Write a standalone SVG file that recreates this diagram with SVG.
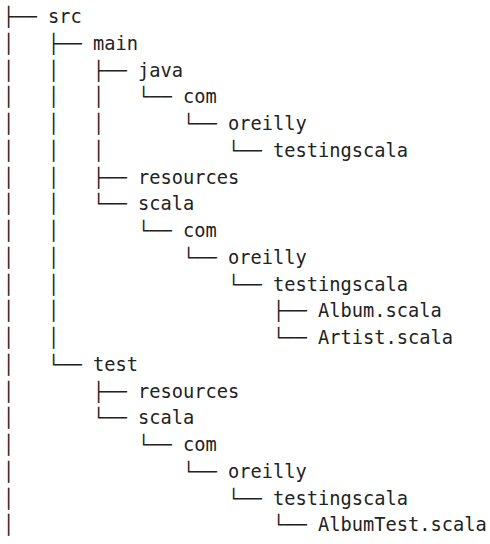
<svg xmlns="http://www.w3.org/2000/svg" width="490" height="544" viewBox="0 0 490 544">
<style>
text{font-family:"DejaVu Sans Mono","Liberation Mono",monospace;font-size:18.69px;fill:#222}
#connectors text{white-space:pre}
</style>
<rect width="490" height="544" fill="#fff"/>
<g id="connectors">
<text xml:space="preserve" x="3" y="23">├──</text>
<text xml:space="preserve" x="3" y="49.75">│   ├──</text>
<text xml:space="preserve" x="3" y="76.5">│   │   ├──</text>
<text xml:space="preserve" x="3" y="103.25">│   │   │   └──</text>
<text xml:space="preserve" x="3" y="130">│   │   │       └──</text>
<text xml:space="preserve" x="3" y="156.75">│   │   │           └──</text>
<text xml:space="preserve" x="3" y="183.5">│   │   ├──</text>
<text xml:space="preserve" x="3" y="210.25">│   │   └──</text>
<text xml:space="preserve" x="3" y="237">│   │       └──</text>
<text xml:space="preserve" x="3" y="263.75">│   │           └──</text>
<text xml:space="preserve" x="3" y="290.5">│   │               └──</text>
<text xml:space="preserve" x="3" y="317.25">│   │                   ├──</text>
<text xml:space="preserve" x="3" y="344">│   │                   └──</text>
<text xml:space="preserve" x="3" y="370.75">│   └──</text>
<text xml:space="preserve" x="3" y="397.5">│       ├──</text>
<text xml:space="preserve" x="3" y="424.25">│       └──</text>
<text xml:space="preserve" x="3" y="451">│           └──</text>
<text xml:space="preserve" x="3" y="477.75">│               └──</text>
<text xml:space="preserve" x="3" y="504.5">│                   └──</text>
<text xml:space="preserve" x="3" y="531.25">│                       └──</text>
</g>
<g id="n-src"><text x="48" y="23">src</text></g>
<g id="n-main"><text x="93" y="49.75">main</text></g>
<g id="n-main-java"><text x="138" y="76.5">java</text></g>
<g id="n-main-java-com"><text x="183" y="103.25">com</text></g>
<g id="n-main-java-oreilly"><text x="228" y="130">oreilly</text></g>
<g id="n-main-java-testingscala"><text x="273" y="156.75">testingscala</text></g>
<g id="n-main-resources"><text x="138" y="183.5">resources</text></g>
<g id="n-main-scala"><text x="138" y="210.25">scala</text></g>
<g id="n-main-scala-com"><text x="183" y="237">com</text></g>
<g id="n-main-scala-oreilly"><text x="228" y="263.75">oreilly</text></g>
<g id="n-main-scala-testingscala"><text x="273" y="290.5">testingscala</text></g>
<g id="n-album"><text x="318" y="317.25">Album.scala</text></g>
<g id="n-artist"><text x="318" y="344">Artist.scala</text></g>
<g id="n-test"><text x="93" y="370.75">test</text></g>
<g id="n-test-resources"><text x="138" y="397.5">resources</text></g>
<g id="n-test-scala"><text x="138" y="424.25">scala</text></g>
<g id="n-test-scala-com"><text x="183" y="451">com</text></g>
<g id="n-test-scala-oreilly"><text x="228" y="477.75">oreilly</text></g>
<g id="n-test-scala-testingscala"><text x="273" y="504.5">testingscala</text></g>
<g id="n-albumtest"><text x="318" y="531.25">AlbumTest.scala</text></g>
</svg>
